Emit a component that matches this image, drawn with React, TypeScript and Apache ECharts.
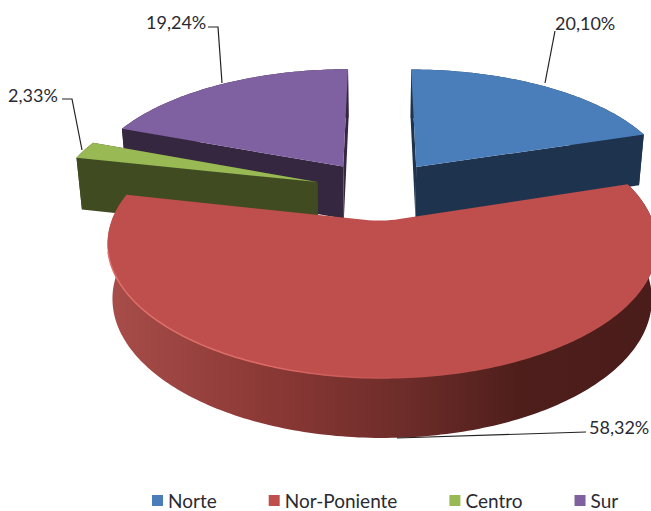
import React, { useEffect, useRef } from "react";
import * as echarts from "echarts";

const categories = ["Norte", "Nor-Poniente", "Centro", "Sur"];
const shares = [20.1, 58.32, 2.33, 19.24];
const topColors = ["#4a7ebb", "#be4f4c", "#98b954", "#7f60a0"];
const wallColors = ["#1e344e", "#6e2c2a", "#404b22", "#362741"];
const seriesZ = [4, 6, 5, 3];

// label layout: text anchor + leader polyline, per slice
const labelAt = [
  { x: 555, y: 23, leader: [[555, 31], [545, 83]] },
  { x: 589, y: 427, leader: [[586, 432], [397, 438]] },
  { x: 8, y: 95, leader: [[62, 99], [72, 99], [82, 150]] },
  { x: 146, y: 22, leader: [[208, 27], [218, 27], [222, 83]] },
];

// 3D projection of the exploded pie
const CX = 379, CY = 190.5, RX = 260, RY = 120, PERSP = 0.16, EXPLODE = 0.25;
const rad = (d: number) => (d * Math.PI) / 180;
function project(X: number, Y: number, raised: boolean) {
  const s = 1 / (1 - PERSP * Y);
  const sx = CX + RX * X * s;
  const sy = CY + RY * Y * s;
  if (raised) return [sx, sy];
  return [CX + (sx - CX) * 0.982, sy + 25 + 28 * s];
}

function sliceChildren(index: number) {
  const total = shares.reduce((a, b) => a + b, 0);
  const before = shares.slice(0, index).reduce((a, b) => a + b, 0);
  const a0 = (before / total) * 360;
  const a1 = ((before + shares[index]) / total) * 360;
  const mid = rad((a0 + a1) / 2);
  const ox = Math.sin(mid) * EXPLODE;
  const oy = -Math.cos(mid) * EXPLODE;
  const rimAngles: number[] = [];
  for (let a = a0; a < a1; a += 1) rimAngles.push(a);
  rimAngles.push(a1);
  const rim = (raised: boolean) =>
    rimAngles.map((a) => project(ox + Math.sin(rad(a)), oy - Math.cos(rad(a)), raised));
  const apexTop = project(ox, oy, true);
  const apexLow = project(ox, oy, false);
  const top = rim(true);
  const low = rim(false);
  const isMajor = a1 - a0 > 180;
  const children: any[] = [];

  if (isMajor) {
    children.push({
      type: "polygon",
      shape: { points: [...top, ...low.slice().reverse()] },
      style: {
        fill: new echarts.graphic.LinearGradient(0, 0, 1, 0, [
          { offset: 0, color: "#a84d4a" },
          { offset: 0.3, color: "#8a3835" },
          { offset: 0.55, color: "#6c2c29" },
          { offset: 0.75, color: "#4e1e1b" },
          { offset: 1, color: "#4a1c1a" },
        ]),
      },
    });
  } else {
    const wallFill = wallColors[index];
    const edges = [
      [top[0], apexTop, apexLow, low[0]],
      [top[top.length - 1], apexTop, apexLow, low[low.length - 1]],
      [...top, ...low.slice().reverse()],
    ];
    edges.forEach((points) =>
      children.push({ type: "polygon", shape: { points }, style: { fill: wallFill } })
    );
  }

  // top face; the large slice has a softened inner corner
  let inner: number[][] = [apexTop];
  if (isMajor) {
    const A = top[top.length - 1];
    const B = top[0];
    const k = 0.07;
    const p0 = [apexTop[0] + (A[0] - apexTop[0]) * k, apexTop[1] + (A[1] - apexTop[1]) * k];
    const p2 = [apexTop[0] + (B[0] - apexTop[0]) * k, apexTop[1] + (B[1] - apexTop[1]) * k];
    inner = [];
    for (let t = 0; t <= 1.001; t += 0.125) {
      const u = 1 - t;
      inner.push([
        u * u * p0[0] + 2 * u * t * apexTop[0] + t * t * p2[0],
        u * u * p0[1] + 2 * u * t * apexTop[1] + t * t * p2[1],
      ]);
    }
  }
  children.push({
    type: "polygon",
    shape: { points: [...top, ...inner] },
    style: { fill: topColors[index] },
  });

  if (isMajor) {
    children.push({
      type: "polyline",
      shape: { points: top.filter((p) => p[1] > 250) },
      style: {
        fill: "none",
        lineWidth: 1.5,
        stroke: new echarts.graphic.LinearGradient(1, 0, 0, 0, [
          { offset: 0, color: "#be4f4c" },
          { offset: 0.45, color: "#be4f4c" },
          { offset: 0.7, color: "#dd6a66" },
          { offset: 1, color: "#e0706b" },
        ]),
      },
    });
  }

  const lay = labelAt[index];
  children.push({
    type: "polyline",
    shape: { points: lay.leader },
    style: { fill: "none", stroke: "#222222", lineWidth: 1.2 },
  });
  children.push({
    type: "text",
    x: lay.x,
    y: lay.y,
    style: {
      text: shares[index].toFixed(2).replace(".", ",") + "%",
      font: "18px Lato",
      fill: "#2a2a33",
      align: "left",
      verticalAlign: "middle",
    },
  });
  return children;
}

export default function App() {
  const ref = useRef<HTMLDivElement>(null);
  useEffect(() => {
    const chart = echarts.init(ref.current!, null, { renderer: "svg" });
    chart.setOption({
      animation: false,
      backgroundColor: "#ffffff",
      legend: {
        data: categories,
        left: 147,
        top: 486,
        icon: "rect",
        itemWidth: 11,
        itemHeight: 11,
        itemGap: 52,
        selectedMode: false,
        textStyle: { fontFamily: "Lato", fontSize: 19, color: "#2a2a33", padding: [0, 0, 0, 0] },
      },
      series: categories.map((name, i) => ({
        type: "custom",
        name,
        coordinateSystem: "none",
        silent: true,
        z: seriesZ[i],
        itemStyle: { color: topColors[i] },
        data: [shares[i]],
        renderItem: () => ({ type: "group", children: sliceChildren(i) }),
      })),
    });
    return () => chart.dispose();
  }, []);
  return (
    <div
      ref={ref}
      style={{ position: "absolute", left: 0, top: 0, width: 651, height: 511 }}
    />
  );
}
